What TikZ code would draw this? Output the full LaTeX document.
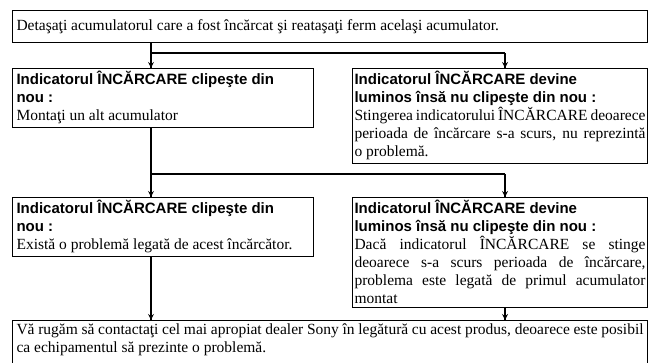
\documentclass[tikz,border=0pt]{standalone}
\usepackage{fontspec}
\setmainfont{Liberation Serif}
\setsansfont{Liberation Sans}
\usetikzlibrary{decorations.markings}
\hyphenpenalty=10000
\exhyphenpenalty=10000

\begin{document}
\begin{tikzpicture}[%
		x=1pt, y=-1pt,
		infobox/.style={
			rectangle,
			line width=1.1pt,
			black,
			anchor=north west,
			align=justify,
			inner xsep=4pt,
			inner ysep=3pt,
			font=\fontsize{15.5}{18}\selectfont,
			draw
		},
		fullbox/.style={
			infobox,
			text width=627pt
		},
		leftbox/.style={
			infobox,
			text width=293pt
		},
		rightbox/.style={
			infobox,
			inner xsep=2pt,
			text width=291pt
		},
		flowline/.style={
			line width=1.4pt
		},
		flowarrow/.style={
			line width=1.4pt,
			decoration={markings,mark=at position 1 with {\arrow[scale=1.1,>=stealth]{>}}},
			postaction={decorate}
		}]

		\useasboundingbox (0,0) rectangle (649,363);
		\clip (0,0) rectangle (649,363);

		% BOXES

		\node (detach) [fullbox, minimum height=32pt] at (12,10) {Detaşaţi acumulatorul care a fost încărcat şi reataşaţi ferm acelaşi acumulator.};

		\node (blink1) [leftbox] at (12,68) {\sffamily\bfseries\fontsize{15}{18}\selectfont Indicatorul ÎNCĂRCARE clipeşte din\\ nou :\\ \rmfamily\mdseries\fontsize{15.5}{18}\selectfont Montaţi un alt acumulator};

		\node (steady1) [rightbox] at (352,68) {\sffamily\bfseries\fontsize{15}{18}\selectfont Indicatorul ÎNCĂRCARE devine\\ luminos însă nu clipeşte din nou :\\ \rmfamily\mdseries\fontsize{15.5}{18}\selectfont Stingerea indicatorului ÎNCĂRCARE deoarece\linebreak perioada de încărcare s-a scurs, nu reprezintă\linebreak o problemă.};

		\node (blink2) [leftbox] at (12,197) {\sffamily\bfseries\fontsize{15}{18}\selectfont Indicatorul ÎNCĂRCARE clipeşte din\\ nou :\\ \rmfamily\mdseries\fontsize{15.5}{18}\selectfont Există o problemă legată de acest încărcător.};

		\node (steady2) [rightbox] at (352,197) {\sffamily\bfseries\fontsize{15}{18}\selectfont Indicatorul ÎNCĂRCARE devine\\ luminos însă nu clipeşte din nou :\\ \rmfamily\mdseries\fontsize{15.5}{18}\selectfont Dacă indicatorul ÎNCĂRCARE se stinge\linebreak deoarece s-a scurs perioada de încărcare,\linebreak problema este legată de primul acumulator\linebreak montat};

		\node (dealer) [fullbox, text depth=30pt] at (12,320) {Vă rugăm să contactaţi cel mai apropiat dealer Sony în legătură cu acest produs, deoarece este posibil\linebreak ca echipamentul să prezinte o problemă.};

		% CONNECTORS

		\coordinate (split1) at (151,53);
		\coordinate (split2) at (505,53);
		\coordinate (split3) at (151,174);
		\coordinate (split4) at (505,174);

		\draw[flowline] (detach.south -| split1) -- (split1) -- (split2);
		\draw[flowarrow] (split1) -- (blink1.north -| split1);
		\draw[flowarrow] (split2) -- (steady1.north -| split2);

		\draw[flowline] (blink1.south -| split3) -- (split3) -- (split4);
		\draw[flowarrow] (split3) -- (blink2.north -| split3);
		\draw[flowarrow] (split4) -- (steady2.north -| split4);

		\draw[flowarrow] (blink2.south -| split3) -- (dealer.north -| split3);
		\draw[flowarrow] (steady2.south -| split4) -- (dealer.north -| split4);
\end{tikzpicture}
\end{document}
